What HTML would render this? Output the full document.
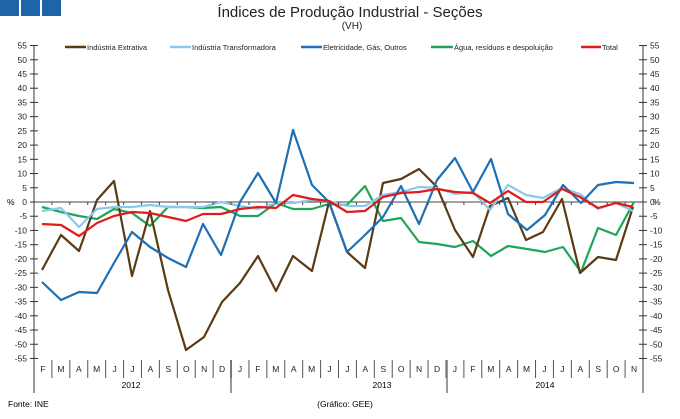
<!DOCTYPE html><html><head><meta charset="utf-8"><style>
body{margin:0;background:#fff;width:680px;height:414px;overflow:hidden;font-family:"Liberation Sans",sans-serif}
</style></head><body>
<svg width="680" height="414" xmlns="http://www.w3.org/2000/svg" font-family="Liberation Sans, sans-serif">
<rect x="0" y="0" width="19" height="16" fill="#1f64a6"/><rect x="21" y="0" width="19" height="16" fill="#1f64a6"/><rect x="42" y="0" width="19" height="16" fill="#1f64a6"/>
<text x="350" y="17" font-size="15" text-anchor="middle" fill="#222">Índices de Produção Industrial - Seções</text>
<text x="352" y="29" font-size="10" text-anchor="middle" fill="#222">(VH)</text>
<g font-size="7.5" fill="#222">
<line x1="65" y1="47" x2="86" y2="47" stroke="#5c3a14" stroke-width="2.5"/><text x="87" y="50">Indústria Extrativa</text>
<line x1="170" y1="47" x2="191" y2="47" stroke="#8cc8ec" stroke-width="2.5"/><text x="192" y="50">Indústria Transformadora</text>
<line x1="301" y1="47" x2="322" y2="47" stroke="#1e6fb4" stroke-width="2.5"/><text x="323" y="50">Eletricidade, Gás, Outros</text>
<line x1="431" y1="47" x2="453" y2="47" stroke="#1fa55a" stroke-width="2.5"/><text x="454" y="50">Água, resíduos e despoluição</text>
<line x1="581" y1="47" x2="601" y2="47" stroke="#e01b1b" stroke-width="2.5"/><text x="602" y="50">Total</text>
</g>
<g id="axes">
<line x1="34" y1="45" x2="34" y2="393" stroke="#999" stroke-width="2"/>
<line x1="643" y1="45" x2="643" y2="393" stroke="#999" stroke-width="2"/>
<line x1="231" y1="360" x2="231" y2="393" stroke="#999" stroke-width="2"/>
<line x1="447" y1="360" x2="447" y2="393" stroke="#999" stroke-width="2"/>
<line x1="34" y1="202" x2="643" y2="202" stroke="#444" stroke-width="1"/>
</g>
<g id="yl" font-size="8.5" fill="#222"></g>
<g id="xl" font-size="8.5" fill="#222"></g>
<text x="7" y="205" font-size="8.5">%</text><text x="653" y="205" font-size="8.5">%</text>
<text x="382" y="388" font-size="8.5" text-anchor="middle">2013</text>
<text x="131" y="388" font-size="8.5" text-anchor="middle">2012</text>
<text x="545" y="388" font-size="8.5" text-anchor="middle">2014</text>
<text x="8" y="407" font-size="8.5">Fonte: INE</text>
<text x="345" y="407" font-size="8.5" text-anchor="middle">(Gráfico: GEE)</text>
<g fill="none" stroke-width="2.2" stroke-linejoin="round">
<polyline stroke="#1fa55a" points="42,207 61,212 79,216 97,219 114,209 132,213 150,226 168,207 186,207 203,208 221,207 240,216 258,216 276,203 293,209 312,209 329,204 347,205 365,186 383,221 401,218 419,242 437,244 455,247 473,241 491,256 508,246 527,249 545,252 563,247 581,272 598,228 616,235 634,202"/>
<polyline stroke="#5c3a14" points="42,270 61,235 79,251 97,200 114,181 132,276 150,211 168,290 186,350 204,337 222,302 240,283 258,256 276,291 293,256 312,271 329,202 347,252 365,268 383,183 401,179 419,169 437,187 455,230 473,257 490,206 508,198 526,240 543,232 562,199 580,273 598,257 616,260 633,207"/>
<polyline stroke="#8cc8ec" points="42,211 61,208 79,227 97,209 114,207 132,207 150,205 168,207 186,207 203,207 221,202 240,206 258,209 276,203 293,203 312,200 329,201 347,206 365,206 383,195 401,192 419,187 437,188 455,194 473,192 490,210 508,185 526,195 543,198 562,188 580,194 598,209 616,203 633,211"/>
<polyline stroke="#1e6fb4" points="42,282 61,300 79,292 97,293 114,263 132,232 150,247 168,258 186,267 203,224 221,255 240,202 258,173 276,203 293,130 312,185 329,202 347,252 365,235 383,217 401,186 419,224 437,180 455,158 473,192 491,159 508,214 527,230 545,215 563,185 581,203 598,185 616,182 634,183"/>
<polyline stroke="#e01b1b" points="42,224 61,225 79,236 97,223 114,216 132,212 150,213 168,217 186,221 203,214 221,214 240,209 258,207 276,208 293,195 312,199 329,201 347,212 365,211 383,197 401,193 419,192 437,189 455,192 473,193 490,203 508,191 526,202 543,202 562,189 580,197 598,208 616,203 633,207"/>
</g>
<script>
var ns="http://www.w3.org/2000/svg",s=document.querySelector('svg'),yl=document.getElementById('yl'),xl=document.getElementById('xl');
function el(t,a,p,txt){var e=document.createElementNS(ns,t);for(var k in a)e.setAttribute(k,a[k]);if(txt!==undefined)e.textContent=txt;(p||s).appendChild(e);return e;}
for(var v=55;v>=-55;v-=5){var y=202-v*2.845;
el('text',{x:27,y:y+3,'text-anchor':'end'},yl,v);el('text',{x:650,y:y+3},yl,v);
el('line',{x1:30,y1:y,x2:38,y2:y,stroke:'#333','stroke-width':1});el('line',{x1:639,y1:y,x2:647,y2:y,stroke:'#333','stroke-width':1});}
var m="FMAMJJASONDJFMAMJJASONDJFMAMJJASON";var w=609/34;
for(var i=0;i<34;i++){var cx=34+w*(i+0.5);el('text',{x:cx,y:372,'text-anchor':'middle'},xl,m[i]);
if(i>0){var bx=34+w*i;el('line',{x1:bx,y1:360,x2:bx,y2:378,stroke:'#555','stroke-width':1});el('line',{x1:bx,y1:202,x2:bx,y2:205,stroke:'#444','stroke-width':1});}}
</script>
</svg></body></html>
